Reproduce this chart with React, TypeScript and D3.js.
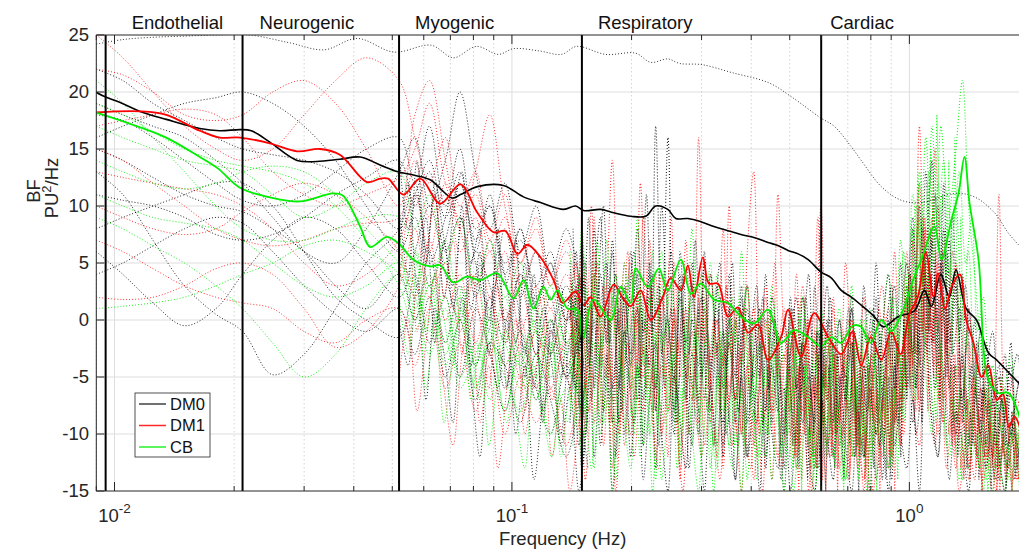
import React from 'react';
import * as d3 from 'd3';

// ---------- DATA ----------
const bandEdges = [0.0095, 0.021, 0.052, 0.15, 0.6];
const bandNames = ['Endothelial', 'Neurogenic', 'Myogenic', 'Respiratory', 'Cardiac'];
const yTicks = [-15, -10, -5, 0, 5, 10, 15, 20, 25];
const xTickExps = [-2, -1, 0];
const legendNames = ['DM0', 'DM1', 'CB'];

// group means
const dm0Freq = [0.00896,0.00944,0.0103,0.0116,0.0135,0.0164,0.0184,0.0207,0.0221,0.0246,0.0288,0.0323,0.0369,0.0415,0.0466,0.0517,0.0568,0.0623,0.0708,0.0742,0.0819,0.0952,0.1069,0.118,0.1349,0.1446,0.1515,0.1672,0.1803,0.199,0.2171,0.2301,0.2467,0.2584,0.2771,0.30,0.3223,0.345,0.377,0.41,0.441,0.47,0.4952,0.525,0.5564,0.5999,0.6358,0.6739,0.715,0.7566,0.8161,0.8598,0.9382,1.0295,1.0911,1.136,1.20,1.26,1.31,1.39,1.476,1.5822,1.657,1.7767,1.9055];
const dm0Mean = [20.0,19.6,19.1,18.3,17.6,16.8,16.6,16.7,16.6,15.6,14.0,13.9,14.1,14.3,13.6,13.0,12.7,12.3,10.7,11.0,11.7,11.8,10.8,10.3,9.7,10.0,9.6,9.7,9.4,9.1,9.1,10.0,9.7,8.9,8.9,8.6,8.2,7.9,7.5,7.2,6.8,6.5,6.1,5.8,5.3,4.2,3.7,2.6,2.0,1.3,0.3,-0.6,0.3,0.8,2.6,1.2,4.0,2.0,4.4,1.0,0.0,-2.9,-3.5,-4.6,-5.7];

const dm1Freq = [0.00896,0.0116,0.0135,0.0164,0.0184,0.0207,0.0246,0.0288,0.0329,0.0369,0.0432,0.0466,0.0488,0.0533,0.0588,0.066,0.0742,0.0819,0.0898,0.0963,0.1033,0.1094,0.118,0.1273,0.1341,0.1446,0.1515,0.1578,0.1672,0.1803,0.1911,0.199,0.2109,0.2235,0.2396,0.251,0.2661,0.2771,0.287,0.3024,0.3131,0.3299,0.3496,0.3705,0.3927,0.4161,0.441,0.4755,0.4952,0.5341,0.576,0.6248,0.6739,0.72,0.7566,0.80,0.85,0.90,0.95,1.0,1.05,1.10,1.15,1.18,1.23,1.28,1.34,1.39,1.45,1.52,1.58,1.66,1.72,1.78,1.84,1.9055];
const dm1Mean = [18.2,18.3,18.0,16.6,16.0,16.0,15.5,14.8,15.0,14.5,12.1,12.4,12.4,11.0,12.4,10.2,11.9,9.4,7.7,7.8,5.8,6.6,5.5,3.5,1.5,2.5,1.3,2.0,0.3,3.1,1.8,1.2,2.6,0.0,2.0,3.7,2.6,4.8,2.0,5.5,3.2,3.2,0.3,1.1,-1.1,-0.4,-3.5,-1.5,0.9,-3.2,0.6,-1.5,-3.0,-1.0,-4.0,-1.5,-3.5,-1.0,-3.0,0.5,2.0,6.0,2.0,4.1,1.0,3.0,4.0,0.0,-2.0,-5.0,-4.0,-7.0,-6.5,-9.4,-8.5,-9.6];

const cbFreq = [0.00896,0.00917,0.0116,0.0135,0.0164,0.0182,0.0207,0.025,0.0293,0.0355,0.0376,0.0415,0.044,0.0485,0.0523,0.0564,0.0623,0.066,0.0712,0.0772,0.0833,0.0919,0.1009,0.1069,0.1133,0.1201,0.1251,0.1302,0.138,0.1463,0.1506,0.1606,0.1772,0.1878,0.199,0.2049,0.2197,0.2342,0.2467,0.2661,0.282,0.2989,0.3223,0.3496,0.377,0.4065,0.441,0.4755,0.5129,0.5564,0.5999,0.6358,0.6739,0.72,0.7566,0.80,0.85,0.90,0.9546,1.0295,1.0723,1.1562,1.2042,1.2762,1.3292,1.3762,1.4167,1.4928,1.5822,1.6765,1.7767,1.9055];
const cbMean = [18.2,18.1,16.9,16.0,14.3,13.3,11.6,10.7,10.4,11.1,10.9,8.2,6.4,7.3,6.6,5.3,4.7,4.8,3.3,3.8,3.5,4.1,1.9,3.5,1.0,2.9,1.8,2.6,1.0,0.9,-1.8,1.8,0.0,2.9,1.5,4.5,2.9,4.5,2.6,5.3,2.3,3.2,1.8,1.5,0.3,-0.3,0.9,-2.0,-0.9,-1.5,-2.3,-1.5,-2.0,-0.5,-0.6,-2.0,0.0,-1.0,0.5,3.8,5.3,8.2,5.3,8.8,11.1,14.3,10.3,5.3,-5.3,-6.4,-6.4,-8.8];

// one DM0 subject running along the top
const topSubjFreq = [0.009,0.0105,0.0125,0.015,0.018,0.0219,0.0277,0.0337,0.0408,0.0505,0.0627,0.0712,0.0814,0.0925,0.1009,0.1173,0.1333,0.1455,0.1721,0.2049,0.2235,0.2467,0.2646,0.3006,0.3578,0.4436,0.504,0.5999,0.6469,0.7141,0.7566,0.85,0.9546,1.0723,1.299,1.458,1.638,1.7767,1.9055];
const topSubjVal = [24.2,24.6,24.8,24.9,25.0,25.0,24.3,23.7,24.7,23.5,24.1,23.0,24.0,23.3,23.8,23.6,23.3,24.0,23.3,23.4,22.6,22.9,22.5,22.4,21.7,20.8,19.6,17.7,17.0,15.2,14.0,11.7,10.5,10.3,11.1,10.8,9.4,7.6,6.4];

// individual subjects, low/mid frequencies
const lowFreq = [0.009,0.0105,0.0125,0.015,0.018,0.021,0.025,0.03,0.036,0.043,0.052,0.057,0.062,0.068,0.074,0.081,0.088,0.096,0.105,0.115,0.125,0.137,0.15];
const lowDM0 = [
  [6,4,1.5,-0.5,1,4,7,9,8,5,2, 6,10,4,0,6,3,-2,4,1,-3,2,-2],
  [13,11,7,3,0.5,-1,-4.8,-3,1,5,8, 12,5,9,15,8,10,5,7,3,6,0,4],
  [15,14,12.5,11,10,9.5,8,6,3,1,4, 0,6,-2,3,-4,2,-6,-1,-7,0,-5,-1],
  [16,17,18,19,19.5,20,19,17,14,10,6, 9,3,7,12,5,1,8,2,6,-1,3,-3],
  [19,18,17,16,14,12,9,6,5,8,13, 16,10,14,20,13,8,12,6,10,4,8,2],
  [8,9,10,11,12,12,10,6,2,0,-1.5, 4,-2,2,-5,1,-3,-8,-2,-6,-10,-4,-8],
  [11,10.5,10,9,7.5,7,7.5,9,11,12.5,14, 10,13,6,9,2,7,0,4,-3,2,-5,-1],
  [22,21,19,17.5,16,15,14.5,14,13,11,8, 11,14,9,12,7,10,3,8,1,5,-2,2],
  [4,5,6.5,8,9,8.5,6,3,0.5,-1,1, -3,2,-5,0,-7,-2,-4,-9,-3,-7,-12,-5],
  [18,17.5,16,14,12,10.5,10,11,13,15,16, 12,17,10,13,6,11,4,8,2,5,0,3],
];
const lowDM1 = [
  [22,21.5,20,18,17.5,18,20,21,19,15,10, 18,21,14,8,13,18,10,5,9,3,7,1],
  [13,12.5,12,11.5,11,10,8,5,3,4,7, 11,6,12,8,3,6,0,3,-3,1,-4,0],
  [2,1.8,2,3,4.5,5,4,1,-2.4,-1,3, 8,2,5,-1,4,-3,1,-5,-1,-6,-2,-7],
  [17,17.5,18,18.5,18,16,13,11,10,11,12.5, 15,19,12,9,11,6,9,3,6,1,4,-2],
  [10,9,8,7.5,8,9.5,11,12,11,9,6, 2,7,0,4,-2,2,-4,0,-6,-1,-5,-8],
  [25,23,20,17,15,14,15,18,21,23,21, 16,12,16,10,13,7,11,5,8,3,6,0],
  [15,14,12,10,8,7,6.5,7,8,8.5,9, 14,9,11,6,9,2,6,-1,3,-3,1,-5],
  [7,6,4.5,3,2,1.5,1,-1,-2,0,1, -4,1,-6,-2,-8,-3,-10,-5,-9,-6,-11,-4],
];
const lowCB = [
  [21,19,16,13,10,8,7,7,8,9,9, 6,3,7,1,4,-2,2,-3,0,-5,-1,-4],
  [1,1.2,1.5,2,3,4,5,6.5,7,6,4, 0,3,-3,1,-4,0,-2,-6,-1,-4,0,-3],
  [14,13,12,11.5,12,13,13.5,13,11,8,5, 3,-1,2,-5,-2,-7,-1,-4,1,-3,2,-2],
  [9,8,6.5,5,3,1,-2,-5,-3,1,4, 2,-3,1,-6,-3,0,-4,-1,-5,0,-3,1],
  [17,16,15,14,13.5,13,11,9,10,12,13, 8,11,5,9,3,7,2,5,-1,3,-2,1],
  [11,10,9,8.5,8,7,5,3,2,3,5, 1,4,-2,2,-6,-1,-8,-3,-7,-2,-9,-4],
  [19,18,16.5,15,14,13.5,13,12,10,7,3, -1,3,-4,0,-6,-2,-5,-8,-3,-10,-6,-9],
];

// individual subjects, myogenic band (finer grid)
const midFreq = [0.052,0.0548,0.0577,0.0608,0.064,0.0675,0.0711,0.0749,0.0789,0.0831,0.0875,0.0922,0.0971,0.1023,0.1078,0.1136,0.1197,0.1261,0.1328,0.1399,0.1474,0.1553];
const midDM0 = [
  [6,12,3,9,-2,7,1,10,-4,5,-1,8,-6,2,-3,4,-9,0,-5,2,-11,-3],
  [10,4,14,6,11,2,9,13,5,8,0,6,3,-2,5,-6,1,-4,-10,-2,-7,-13],
  [0,-4,3,-7,1,-3,-9,2,-5,-12,-2,-6,0,-10,-4,-14,-7,-1,-11,-6,-15,-8],
  [15,8,11,5,12,7,3,9,1,6,-3,4,-1,7,-5,2,-8,-2,3,-6,-1,-9],
];
const midDM1 = [
  [3,9,-1,5,11,2,7,-3,4,0,-6,3,-2,6,-8,-1,2,-7,-3,1,-9,-4],
  [-5,0,-8,-2,4,-6,-11,-3,1,-9,-4,-13,-6,0,-10,-5,-2,-12,-7,-15,-9,-4],
];
const midCB = [
  [2,-3,5,-6,0,-9,-3,1,-7,-2,-11,-5,-1,-8,-13,-4,-9,-2,-12,-6,-3,-10],
  [8,3,6,-1,4,0,-4,3,-2,-7,1,-5,-9,-3,-6,0,-8,-12,-5,-2,-10,-6],
];

// individual subjects, high frequencies (two interleaved frequency grids)
const highFreq = [
  0.14,0.145,0.150,0.156,0.161,0.167,0.173,0.179,0.186,0.192,
  0.199,0.207,0.214,0.222,0.230,0.238,0.247,0.256,0.265,0.274,
  0.284,0.295,0.305,0.316,0.328,0.340,0.352,0.365,0.378,0.391,
  0.406,0.420,0.435,0.451,0.467,0.484,0.502,0.520,0.539,0.558,
  0.578,0.599,0.621,0.643,0.667,0.691,0.716,0.741,0.768,0.796,
  0.825,0.855,0.886,0.918,0.951,0.985,1.02,1.06,1.10,1.14,
  1.18,1.22,1.26,1.31,1.36,1.41,1.46,1.51,1.56,1.62,
  1.68,1.74,1.80,1.87,1.94];
const highFreq2 = [
  0.1425,0.1475,0.153,0.1585,0.164,0.170,0.176,0.1825,0.189,0.1955,
  0.203,0.2105,0.218,0.226,0.234,0.2425,0.2515,0.2605,0.2695,0.279,
  0.2895,0.300,0.3105,0.322,0.334,0.346,0.3585,0.3715,0.3845,0.3985,
  0.413,0.4275,0.443,0.459,0.4755,0.493,0.511,0.5295,0.5485,0.568,
  0.5885,0.610,0.632,0.655,0.679,0.7035,0.7285,0.7545,0.782,0.8105,
  0.840,0.8705,0.902,0.9345,0.968,1.0025,1.04,1.08,1.12,1.16,
  1.20,1.24,1.285,1.335,1.385,1.435,1.485,1.535,1.59,1.65,
  1.71,1.77,1.835,1.905,1.97];
const highDM0 = [
  [2,-6,4,-3,8,-5,1,-9,3,-2,6,-7,0,-4,17,
   -3,16,-8,2,-5,5,-10,1,-6,3,-11,-2,-7,2,-12,
   0,-5,4,-9,-1,-13,2,-6,-2,-10,3,-8,0,-12,-3,
   -7,1,-11,-4,-8,2,-14,-1,-9,5,-6,8,-3,13,-2,
   10,-5,7,-9,4,-11,0,-8,-3,-12,-5,-9,-2,-13,-6],
  [-4,3,-8,0,-12,-2,5,-6,1,-10,-1,4,-7,2,-13,
   -3,0,-9,3,-5,-11,1,-7,4,-3,-9,0,-14,-4,1,
   -8,-2,-12,0,-6,-15,-3,2,-9,-5,-13,0,-7,-2,-11,
   -6,1,-10,-4,-15,-2,-8,0,-11,-6,3,-9,-1,6,-7,
   -12,2,-5,-10,-3,-13,-7,-1,-11,-6,-14,-8,-4,-12,-9],
  [5,-1,7,-4,3,9,-2,6,-6,2,-3,8,-1,4,-8,
   10,0,-5,6,-2,3,-7,5,-4,1,-6,4,-9,-1,3,
   -5,0,-8,2,-3,-10,1,-6,-2,4,-7,-3,3,-9,0,
   -5,2,-8,-1,-4,5,-6,-2,3,-7,0,9,-4,5,14,
   -1,8,-6,3,-9,1,-5,-10,-2,-7,-4,-11,-6,-3,-8],
  [-9,-2,-13,-5,0,-11,-3,-15,-6,-1,-12,-4,-14,-7,-2,
   -10,-15,-5,-9,-13,-3,-8,-15,-6,-11,-1,-9,-14,-5,-12,
   -8,-15,-3,-10,-13,-6,-15,-9,-4,-12,-15,-7,-10,-14,-5,
   -11,-15,-8,-12,-6,-14,-9,-15,-4,-10,-13,-7,-15,-2,-9,
   -12,-5,-14,-8,-11,-15,-6,-10,-13,-7,-12,-15,-9,-11,-14],
  [0,6,-3,9,-6,4,-1,7,-9,3,-4,1,-11,5,-6,
   2,-3,-10,4,-7,0,-4,6,-8,-2,-12,1,-5,3,-9,
   -3,1,-13,-4,-8,0,-6,-11,2,-4,-9,-1,-12,-5,0,
   -7,-2,-9,3,-5,-10,-1,4,-6,0,5,-3,10,2,7,
   -4,12,-2,4,-7,0,-3,-9,-5,-1,-8,-3,-10,-6,-4],
];
const highDM0b = [
  [-6,2,-10,-1,5,-8,0,-12,3,-4,-9,1,-6,4,-11,
   -2,6,-7,0,-13,-3,2,-8,-1,5,-10,-4,1,-12,-2,
   3,-9,-5,0,-14,-6,-1,-10,2,-7,-13,-3,0,-9,-5,
   1,-12,-4,-8,0,-11,-2,3,-9,-5,4,-6,8,-1,11,
   3,6,-3,1,-8,-4,-12,-6,-10,-14,-7,-11,-9,-13,-10],
  [8,-3,5,-7,1,10,-2,4,-8,0,6,-5,11,-1,3,
   -6,1,-9,4,-3,7,-5,-1,-11,2,-4,5,-8,0,-3,
   -9,2,-6,-1,-11,-4,1,-7,-3,-12,-1,-6,2,-10,-4,
   -8,-1,-12,-3,1,-9,-5,-14,-2,-7,0,-10,-4,2,-6,
   5,-3,9,-1,3,-6,-2,-9,-4,-11,-7,-13,-8,-5,-12],
];
const highDM1 = [
  [1,-5,6,-2,9,-4,3,14,-1,5,-6,2,-3,7,-8,
   4,-2,5,-5,1,-3,16,-2,4,-3,8,-6,0,-10,6,
   13,-2,3,-7,11,-1,-5,4,-8,0,-3,10,-6,1,-9,
   5,-4,-11,2,-7,-1,3,-8,6,-4,2,-6,17,-2,9,
   -5,7,-3,5,-8,1,-6,-10,-4,-12,11,-9,-5,-11,-8],
  [-7,0,-11,-3,4,-9,-1,-13,2,-6,-10,0,-5,3,-12,
   -4,-8,1,-14,-3,-7,2,-11,-5,0,-13,-2,-8,-15,-4,
   1,-10,-6,-14,-2,-9,0,-12,-5,-15,-1,-8,-11,-3,-13,
   -6,0,-10,-14,-4,-8,-12,-2,-9,-5,2,-7,-11,4,-3,
   -10,1,-6,-13,-4,-9,-14,-6,-11,-15,-8,-12,-10,-14,-11],
  [4,-3,1,-8,6,-1,-5,3,-10,0,5,-4,9,-2,-7,
   2,-12,1,-3,7,-6,-1,4,-9,0,-4,10,-7,-2,3,
   -11,-5,2,-8,-3,1,-10,-4,3,-6,-12,-1,-7,2,-9,
   -4,0,-13,-5,-1,-10,-3,1,-6,-11,-2,3,-8,8,-1,
   5,-7,0,-10,-4,-2,-11,-6,-13,-8,-5,-12,-9,-7,-13],
  [-2,5,-5,2,-9,-3,3,-7,0,-11,-4,1,-8,-2,4,
   -10,-5,0,-13,-6,-1,-9,2,-5,-12,-3,-7,1,-10,-4,
   -14,-6,0,-9,-12,-3,-7,-13,-2,-8,-5,-14,-1,-10,-6,
   -3,-12,-8,-15,-4,-9,-6,-13,0,-7,6,-4,12,-1,3,
   -6,-9,-3,-11,-8,-14,-5,-10,-12,-7,-13,-10,-9,-14,-12],
];
const highDM1b = [
  [-3,4,-6,10,-1,3,-9,1,-4,6,-7,12,-2,-8,2,
   -5,9,-3,1,-10,-2,4,-6,0,-8,3,-4,-11,1,-6,
   2,-9,-3,5,-7,-1,-12,-4,0,-8,9,-5,-2,-10,-6,
   0,-9,-3,-13,-5,1,-8,-11,-2,-6,4,-3,9,0,15,
   4,-2,6,-5,1,-9,-3,-11,-7,-13,-6,-10,-14,-9,-12],
  [-10,-3,-14,-6,-1,-11,-4,-15,-7,-2,-12,-5,0,-9,-13,
   -6,-1,-10,-15,-4,-8,-12,-3,-9,-14,-5,-11,-2,-8,-13,
   -7,-15,-4,-10,-13,-6,-1,-11,-8,-15,-5,-9,-12,-3,-10,
   -14,-7,-11,-4,-15,-9,-6,-12,-3,-10,-1,-8,2,-6,-11,
   -4,-13,-8,-15,-10,-6,-12,-14,-9,-15,-11,-13,-10,-14,-12],
];
const highCB = [
  [3,-4,0,-8,5,-2,-6,2,-9,-1,4,-5,1,-10,-3,
   3,-7,0,-11,-4,2,-8,-2,5,-6,-1,-9,0,-4,3,
   -7,-2,-10,1,-5,-3,-8,-1,2,-6,-4,0,-9,-3,1,
   -7,-2,-10,0,-5,-8,-1,4,-3,7,0,11,5,16,6,
   12,6,9,15,21,10,4,-2,-7,-4,-10,-6,-11,-8,-12],
  [-5,2,-9,-1,-13,-4,1,-7,-11,-2,-6,3,-10,-4,-14,
   -1,-8,-3,-12,0,-6,-10,-2,-13,-5,-8,-1,-11,-6,-14,
   -3,-9,-12,-2,-7,-15,-4,-10,-1,-8,-13,-5,-11,-3,-9,
   -14,-6,-2,-12,-7,-10,-4,-13,-1,-8,2,-5,9,-3,6,
   -7,2,-4,-9,-6,-13,-8,-11,-14,-9,-12,-15,-10,-13,-11],
  [6,0,8,-2,4,-5,7,1,-3,5,-1,9,-4,2,-6,
   6,0,-8,3,-2,8,-5,1,-3,4,-7,0,-2,6,-4,
   -9,1,-6,3,-3,-8,0,-5,2,-7,-2,1,-6,-10,-1,
   -4,3,-8,-2,1,-5,-9,-3,2,-4,5,0,13,3,17,
   8,14,4,10,0,6,-5,-1,-8,-4,-9,-6,-3,-10,-7],
  [-8,-1,-12,-5,-2,-10,-6,-15,-3,-9,-13,-4,-11,-7,-1,
   -14,-8,-5,-12,-2,-10,-15,-6,-9,-13,-3,-11,-7,-15,-5,
   -9,-12,-4,-14,-8,-11,-2,-13,-6,-10,-15,-7,-4,-12,-9,
   -14,-5,-11,-8,-15,-3,-10,-13,-6,-9,-1,-7,3,-5,-10,
   0,-8,-12,-4,-14,-7,-11,-13,-6,-15,-9,-12,-14,-10,-13],
];
const highCBb = [
  [1,-6,3,-3,7,-8,-1,4,-5,0,-10,2,-4,6,-7,
   -2,3,-9,-4,1,-7,4,-3,-11,-1,-6,2,-8,-3,0,
   -12,-5,1,-8,-2,-10,-4,0,-7,-13,-3,-9,-1,-6,-11,
   -3,-8,0,-12,-5,-1,-9,2,-4,6,-2,10,3,13,7,
   17,11,8,13,5,9,-1,2,-6,-9,-5,-12,-8,-10,-13],
  [-11,-4,-8,-13,-2,-9,-6,-14,-1,-10,-5,-12,-3,-15,-7,
   -9,-2,-13,-6,-10,-1,-12,-7,-15,-4,-9,-13,-5,-11,-2,
   -14,-8,-10,-3,-12,-6,-15,-9,-4,-11,-13,-7,-2,-10,-14,
   -5,-12,-8,-15,-3,-10,-6,-13,-1,-9,0,-7,4,-4,-9,
   -2,-11,-6,-14,-8,-12,-10,-15,-7,-13,-11,-14,-9,-15,-12],
];

// individual subjects, cardiac band (finest grid)
const cardFreq = [
  0.5,0.509,0.518,0.527,0.536,0.545,0.555,0.565,0.575,0.585,
  0.595,0.605,0.616,0.627,0.638,0.649,0.660,0.672,0.684,0.696,
  0.708,0.720,0.733,0.746,0.759,0.772,0.786,0.800,0.814,0.828,
  0.843,0.857,0.872,0.888,0.903,0.919,0.935,0.952,0.968,0.985,
  1.003,1.020,1.038,1.056,1.075,1.094,1.113,1.133,1.152,1.173,
  1.193,1.214,1.235,1.257,1.279,1.302,1.325,1.348,1.372,1.396,
  1.420,1.445,1.471,1.496,1.523,1.549,1.577,1.604,1.632,1.661,
  1.690,1.720,1.750,1.781,1.812,1.844,1.876,1.909,1.943];
const cardDM0 = [
  -3,-11,-5,-13,-2,-9,-14,-6,-10,-1,
  -12,-7,-15,-4,-9,-13,-3,-8,-14,-5,
  -11,-2,-10,-15,-6,-12,-4,-9,-13,-7,
  -1,-10,-14,-5,-11,-3,-8,-12,0,-7,
  -4,3,-6,1,-9,5,-3,8,-2,4,
  -7,6,-5,2,-10,-4,-12,-6,-9,-13,
  -8,-11,-5,-14,-9,-12,-7,-15,-10,-6,
  -13,-9,-15,-11,-8,-14,-12,-10,-15];
const cardDM1a = [
  -8,-1,-12,-4,-14,-7,0,-10,-5,-13,
  -2,-9,-15,-6,-11,-3,-13,-8,-1,-10,
  -14,-5,-12,-7,-2,-11,-15,-6,-9,-4,
  -13,-8,-3,-12,-6,-15,-2,-9,-5,2,
  -6,7,-3,10,-1,5,-8,3,-4,6,
  -2,-9,1,-6,-11,-3,-8,-13,-5,-10,
  -14,-7,-12,-9,-15,-11,-6,-13,-10,-15,
  -8,-12,-14,-9,-15,-11,-13,-15,-12];
const cardDM1b = [
  -12,-5,-9,-15,-3,-10,-6,-13,-8,-2,
  -11,-14,-4,-9,-12,-6,-15,-3,-10,-7,
  -13,-1,-8,-12,-5,-14,-9,-3,-11,-6,
  -15,-7,-10,-2,-13,-8,-5,-11,-1,-6,
  2,-4,4,-7,0,9,-2,4,-5,1,
  -8,3,-6,-10,-4,-12,-2,-9,-14,-7,
  -11,-5,-13,-8,-15,-6,-12,-9,-14,-11,
  -15,-10,-13,-12,-15,-9,-14,-13,-11];
const cardCB = [
  -6,-13,-2,-9,-15,-4,-11,-7,-14,-3,
  -10,-5,-12,-8,-1,-13,-6,-11,-15,-4,
  -9,-12,-3,-14,-7,-10,-2,-13,-8,-15,
  -5,-11,-9,-1,-12,-6,-14,-3,-8,4,
  -2,8,1,12,3,6,0,15,5,18,
  7,11,2,14,-3,16,-2,9,-6,-1,
  -12,-8,-4,-13,-9,-11,-15,-7,-12,-10,
  -14,-9,-13,-11,-15,-12,-10,-14,-13];

// ---------- LAYOUT ----------
const W = 1019, H = 559;
const X0 = 96.3, X1 = 1029, Y0 = 35, Y1 = 491;
const FONT = '"Liberation Sans", Arial, Helvetica, sans-serif';
const AX = '#262626';
const COL = { dm0: '#000000', dm1: '#ff0000', cb: '#00ee00' };
const bandLabelDx = [26, 17, 16, 16, 9];

type P = [number, number];
const zip = (f: number[], v: number[]): P[] =>
  v.map((d, i) => [f[i], d] as P).filter(p => p[0] !== undefined);

export default function App() {
  const x = d3.scaleLog().domain([0.009, 2]).range([X0, X1]);
  const y = d3.scaleLinear().domain([-15, 25]).range([Y1, Y0]);
  const smooth = d3.line<P>().x(d => x(d[0])).y(d => y(d[1])).curve(d3.curveCatmullRom.alpha(0.5));
  const sharp = d3.line<P>().x(d => x(d[0])).y(d => y(d[1]));

  const gridX: { v: number; major: boolean }[] = [];
  for (let e = -3; e <= 0; e++) {
    for (let m = 1; m <= 9; m++) {
      const v = m * Math.pow(10, e);
      if (v >= 0.009 && v <= 2) gridX.push({ v, major: m === 1 });
    }
  }

  const dotted = (key: string, d: string, color: string, op: number, w = 1) => (
    <path key={key} d={d} fill="none" stroke={color} strokeWidth={w}
      strokeDasharray="1 2" strokeOpacity={op} />
  );

  const opDM0 = 0.85, opDM1 = 0.8, opCB = 0.9;
  const lowSets: [number[][], string, number][] = [
    [lowDM0, COL.dm0, opDM0], [lowDM1, COL.dm1, opDM1], [lowCB, COL.cb, opCB],
  ];
  const midSets: [number[][], string, number][] = [
    [midDM0, COL.dm0, opDM0], [midDM1, COL.dm1, opDM1], [midCB, COL.cb, opCB],
  ];
  const highSets: [number[][], number[], string, number][] = [
    [highDM0, highFreq, COL.dm0, opDM0], [highDM1, highFreq, COL.dm1, opDM1], [highCB, highFreq, COL.cb, opCB],
    [highDM0b, highFreq2, COL.dm0, opDM0], [highDM1b, highFreq2, COL.dm1, opDM1], [highCBb, highFreq2, COL.cb, opCB],
  ];
  const cardSets: [number[], string, number][] = [
    [cardDM0, COL.dm0, opDM0], [cardDM1a, COL.dm1, opDM1], [cardCB, COL.cb, opCB], [cardDM1b, COL.dm1, opDM1],
  ];

  const highInterleaved: React.ReactElement[] = [];
  for (let i = 0; i < 5; i++) {
    highSets.forEach(([arr, f, c, op], g) => {
      if (arr[i]) highInterleaved.push(dotted(`h${g}-${i}`, smooth(zip(f, arr[i]))!, c, op, 1.1));
    });
  }

  return (
    <svg width={W} height={H} viewBox={`0 0 ${W} ${H}`}
      style={{ position: 'absolute', left: 0, top: 0, background: '#fff' }}
      fontFamily={FONT}>
      <defs>
        <clipPath id="plot"><rect x={X0} y={Y0} width={X1 - X0} height={Y1 - Y0} /></clipPath>
      </defs>
      <rect x={0} y={0} width={W} height={H} fill="#fff" />

      {/* grid */}
      <g>
        {yTicks.filter(t => t > -15 && t < 25).map(t => (
          <line key={`gy${t}`} x1={X0} x2={X1} y1={y(t)} y2={y(t)} stroke="#dedede" strokeWidth={1} />
        ))}
        {gridX.map(g => (
          <line key={`gx${g.v}`} x1={x(g.v)} x2={x(g.v)} y1={Y0} y2={Y1}
            stroke={g.major ? '#dedede' : '#d2d2d2'} strokeWidth={1}
            strokeDasharray={g.major ? undefined : '1.5 2.5'} />
        ))}
      </g>

      {/* individual subjects */}
      <g clipPath="url(#plot)">
        {lowSets.map(([arr, c, op], g) => arr.map((vals, i) =>
          dotted(`l${g}-${i}`, smooth(zip(lowFreq, vals))!, c, op)))}
        {midSets.map(([arr, c, op], g) => arr.map((vals, i) =>
          dotted(`m${g}-${i}`, smooth(zip(midFreq, vals))!, c, op)))}
        {highInterleaved}
        {cardSets.map(([vals, c, op], g) =>
          dotted(`c${g}`, sharp(zip(cardFreq, vals))!, c, op, 1.1))}
        {dotted('top', smooth(zip(topSubjFreq, topSubjVal))!, COL.dm0, 0.8)}
      </g>

      {/* means */}
      <g clipPath="url(#plot)" fill="none">
        <path d={smooth(zip(dm0Freq, dm0Mean))!} stroke={COL.dm0} strokeWidth={1.6} />
        <path d={smooth(zip(dm1Freq, dm1Mean))!} stroke={COL.dm1} strokeWidth={1.8} />
        <path d={smooth(zip(cbFreq, cbMean))!} stroke={COL.cb} strokeWidth={1.8} />
      </g>

      {/* band separators */}
      {bandEdges.map(b => (
        <line key={`b${b}`} x1={x(b)} x2={x(b)} y1={Y0} y2={Y1} stroke="#000" strokeWidth={2} />
      ))}
      {bandNames.map((n, i) => (
        <text key={n} x={x(bandEdges[i]) + bandLabelDx[i]} y={29} fontSize={18.5} fill="#111">{n}</text>
      ))}

      {/* axes */}
      <g stroke={AX} strokeWidth={1}>
        <line x1={X0} x2={X1} y1={Y1} y2={Y1} />
        <line x1={X0} x2={X1} y1={Y0} y2={Y0} />
        <line x1={X0} x2={X0} y1={Y0} y2={Y1} />
        {gridX.map(g => (
          <g key={`t${g.v}`}>
            <line x1={x(g.v)} x2={x(g.v)} y1={Y1} y2={Y1 - (g.major ? 9 : 5)} />
            <line x1={x(g.v)} x2={x(g.v)} y1={Y0} y2={Y0 + (g.major ? 9 : 5)} />
          </g>
        ))}
        {yTicks.map(t => (
          <line key={`ty${t}`} x1={X0} x2={X0 + 8} y1={y(t)} y2={y(t)} />
        ))}
      </g>
      <g fill={AX} fontSize={18.5}>
        {yTicks.map(t => (
          <text key={`yl${t}`} x={89} y={y(t)} dy="0.35em" textAnchor="end">{t}</text>
        ))}
        {xTickExps.map(e => (
          <text key={`xl${e}`} x={x(Math.pow(10, e))} y={522} textAnchor="middle">
            10<tspan dy={-9} fontSize={13.5}>{e}</tspan>
          </text>
        ))}
        <text x={(X0 + X1) / 2} y={545} textAnchor="middle">Frequency (Hz)</text>
        <text transform="translate(40,191) rotate(-90)" textAnchor="middle">BF</text>
        <text transform="translate(58,188) rotate(-90)" textAnchor="middle">
          PU<tspan dy={-7} fontSize={13}>2</tspan><tspan dy={7}>/Hz</tspan>
        </text>
      </g>

      {/* legend */}
      <g>
        <rect x={135} y={393} width={75} height={64} fill="#fff" stroke={AX} strokeWidth={0.8} />
        {legendNames.map((n, i) => {
          const c = [COL.dm0, COL.dm1, COL.cb][i];
          const yy = 404 + i * 21.5;
          return (
            <g key={n}>
              <line x1={139} x2={166} y1={yy} y2={yy} stroke={c} strokeWidth={1.5} strokeOpacity={i === 0 ? 0.75 : 0.85} />
              <text x={170} y={yy} dy="0.36em" fontSize={16.5} fill="#111">{n}</text>
            </g>
          );
        })}
      </g>
    </svg>
  );
}
